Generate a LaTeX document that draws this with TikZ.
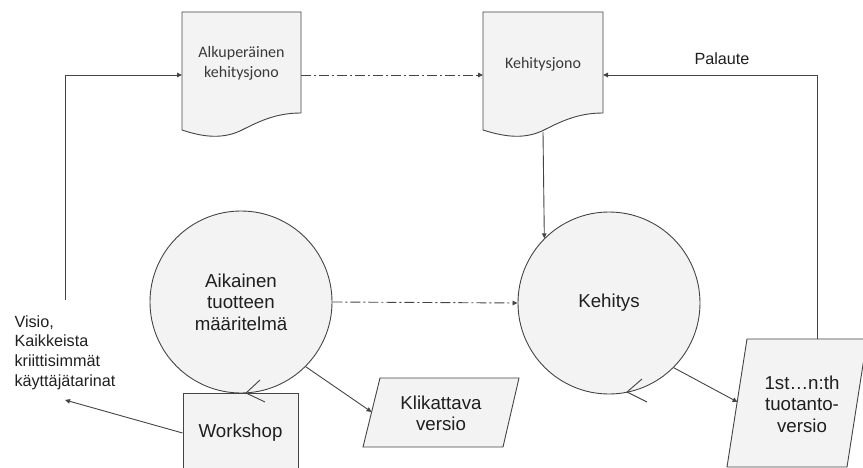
\documentclass[tikz,border=0pt]{standalone}
\usepackage{fontspec}
\setmainfont{Liberation Sans}
\newfontfamily\calibri{Carlito}
\usetikzlibrary{arrows.meta}
\definecolor{shapefill}{HTML}{F3F3F3}
\definecolor{edge}{HTML}{444444}
\definecolor{ink}{HTML}{1F1F1F}
\definecolor{docink}{HTML}{3A3A3A}
\begin{document}
\begin{tikzpicture}[x=1pt,y=-1pt,
  shapeline/.style={draw=edge, line width=0.9pt, fill=shapefill},
  edgeline/.style={draw=edge, line width=0.9pt},
  arr/.style={edgeline, -{Triangle[length=5pt,width=4.5pt]}},
  dashdot/.style={dash pattern=on 10pt off 3pt on 2pt off 3pt},
  bigtext/.style={font=\fontsize{18.7}{21.5}\selectfont, text=ink, align=center},
  smalltext/.style={font=\fontsize{16.2}{19.6}\selectfont, text=ink},
  doctext/.style={font=\calibri\fontsize{16}{20}\selectfont, text=docink, align=center},
  circ/.style={shapeline, circle, minimum size=182pt, inner sep=0pt},
]
\useasboundingbox (0,0) rectangle (863,468);

% document shapes (backlogs)
\draw[shapeline] (182,12) -- (301,12) -- (301,113)
  .. controls (275,113) and (258,122) .. (240,131)
  .. controls (220,140) and (200,136) .. (182,130) -- cycle;
\node[doctext] (d1) at (241.5,63) {Alkuperäinen\\kehitysjono};
\draw[shapeline] (483,12) -- (603,12) -- (603,113)
  .. controls (577,113) and (560,122) .. (542,131)
  .. controls (522,140) and (502,136) .. (483,130) -- cycle;
\node[doctext] (d2) at (543,64) {Kehitysjono};
\coordinate (d1w) at (182,75);
\coordinate (d1e) at (301,75);
\coordinate (d2w) at (483,75);
\coordinate (d2e) at (603,75);
\coordinate (d2s) at (543,132);

% process circles
\node[circ, bigtext] (aik) at (241,302) {Aikainen\\tuotteen\\määritelmä};
\node[circ, bigtext] (keh) at (609,303) {Kehitys};

% workshop box
\node[shapeline, bigtext, minimum width=115pt, minimum height=80pt, inner sep=0pt] (ws) at (240.5,433) {Workshop};

% outputs (parallelograms)
\draw[shapeline] (380,378) -- (519,378) -- (503,447) -- (363,447) -- cycle;
\node[bigtext] (klik) at (441,413.5) {Klikattava\\versio};
\coordinate (klikw) at (371.6,412);

\draw[shapeline] (747,339) -- (867,339) -- (847,467) -- (727,467) -- cycle;
\node[bigtext] (prod) at (802,404) {1st…n:th\\tuotanto-\\versio};
\coordinate (prodw) at (737.5,402);
\coordinate (prodn) at (817,339);

% vision text
\node[smalltext, align=left, anchor=west] (visio) at (11,352.5) {Visio,\\Kaikkeista\\kriittisimmät\\käyttäjätarinat};
\coordinate (visioarr) at (65,400);
\coordinate (looptop) at (65,300);

\node[smalltext] (pal) at (722,59) {Palaute};

% connectors
\draw[arr] (looptop) |- (d1w);
\draw[arr, dashdot] (d1e) -- (d2w);
\draw[arr] (prodn) |- (d2e);
\draw[arr] (d2s) -- (keh.135);
\draw[arr, dashdot] (aik.east) -- (keh.west);
\draw[arr] (aik.-45) -- (klikw);
\draw[arr] (keh.-45) -- (prodw);
\draw[arr] (ws.west) -- (visioarr);

% iteration marks on the circles
\draw[edgeline] ([shift={(19,78)}]aik.center) -- ([shift={(5,91)}]aik.center) -- ([shift={(24,100)}]aik.center);
\draw[edgeline] ([shift={(33,76)}]keh.center) -- ([shift={(18,89)}]keh.center) -- ([shift={(38,99)}]keh.center);
\end{tikzpicture}
\end{document}
